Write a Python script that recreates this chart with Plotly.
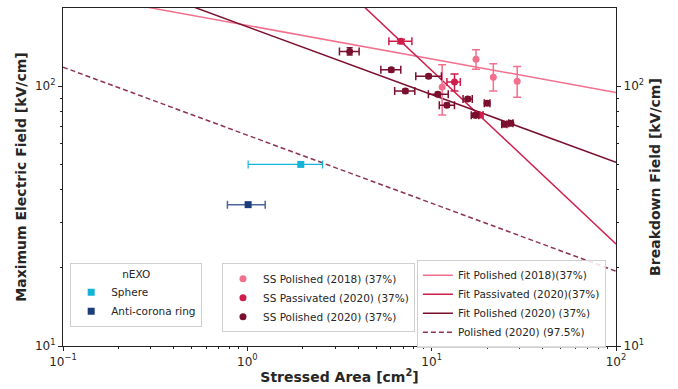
import plotly.graph_objects as go

# ---- data ----
# nEXO
sphere_A = [1.95]; sphere_E = [50.0]; sphere_A_lo = [1.01]; sphere_A_hi = [2.56]
ring_A = [1.01]; ring_E = [35.0]; ring_A_lo = [0.78]; ring_A_hi = [1.25]

# SS Polished (2018)
p18_A = [11.4, 17.4, 21.6, 29.1]
p18_E = [99.4, 127.0, 108.3, 104.5]
p18_E_lo = [77.4, 116.3, 95.9, 90.7]
p18_E_hi = [120.9, 138.0, 121.9, 119.0]

# SS Passivated (2020)
pa_A = [6.81, 13.3, 18.2]
pa_E = [148.8, 103.9, 77.4]
pa_A_lo = [5.86, 12.1, 17.4]
pa_A_hi = [7.81, 14.3, 19.0]
pa_E_lo = [146.0, 95.9, 75.8]
pa_E_hi = [151.5, 111.5, 79.0]

# SS Polished (2020)
p20_A = [3.59, 6.04, 9.62, 7.2, 10.8, 12.1, 15.7, 20.0, 17.2, 24.8, 26.9]
p20_E = [136.0, 115.6, 109.3, 95.9, 93.1, 84.5, 89.3, 86.0, 77.3, 71.3, 72.0]
p20_A_lo = [3.16, 5.3, 8.2, 6.3, 9.6, 11.0, 14.8, 19.3, 16.4, 24.0, 26.2]
p20_A_hi = [4.04, 6.8, 11.3, 8.1, 12.3, 13.3, 16.6, 20.7, 18.0, 25.6, 27.6]
p20_E_lo = [131.9, 113.5, 107.3, 94.2, 91.4, 83.0, 87.7, 84.4, 75.9, 70.0, 70.7]
p20_E_hi = [140.5, 117.7, 111.3, 97.6, 94.8, 86.0, 90.9, 87.6, 78.7, 72.6, 73.3]

# Fit lines (end points read at A = 0.1 and A = 100)
fit_A = [0.1, 100.0]
fit18_E = [230.7, 94.6]
fitpa_E = [2495.0, 24.7]
fit20_E = [309.0, 50.9]
fit20_975_E = [118.4, 19.4]

x_ticks = [0.1, 1, 10, 100]
x_ticktext = ["10<sup>−1</sup>", "10<sup>0</sup>", "10<sup>1</sup>", "10<sup>2</sup>"]
y_ticks = [10, 100]
y_ticktext = ["10<sup>1</sup>", "10<sup>2</sup>"]

C_SPH = "#14b3d9"
C_RING = "#1c3c7a"
C_P18 = "#f2708e"
C_PA = "#d01c4b"
C_P20 = "#7a0f2e"

def asym(v, lo, hi):
    return [h - x for x, h in zip(v, hi)], [x - l for x, l in zip(v, lo)]

fig = go.Figure()

# fit lines
fig.add_trace(go.Scatter(x=fit_A, y=fit18_E, mode="lines", line=dict(color=C_P18, width=1.5),
                         name="Fit Polished (2018)(37%)", legend="legend3"))
fig.add_trace(go.Scatter(x=fit_A, y=fitpa_E, mode="lines", line=dict(color=C_PA, width=1.5),
                         name="Fit Passivated (2020)(37%)", legend="legend3"))
fig.add_trace(go.Scatter(x=fit_A, y=fit20_E, mode="lines", line=dict(color=C_P20, width=1.5),
                         name="Fit Polished (2020) (37%)", legend="legend3"))
fig.add_trace(go.Scatter(x=fit_A, y=fit20_975_E, mode="lines",
                         line=dict(color="rgba(122,15,46,0.85)", width=1.5, dash="5px,3px"),
                         name="Polished (2020) (97.5%)", legend="legend3"))

# nEXO
p, m = asym(sphere_A, sphere_A_lo, sphere_A_hi)
fig.add_trace(go.Scatter(x=sphere_A, y=sphere_E, mode="markers", name="Sphere", legend="legend",
                         marker=dict(symbol="square", size=7, color=C_SPH),
                         error_x=dict(type="data", array=p, arrayminus=m, color=C_SPH, thickness=1.2, width=4)))
p, m = asym(ring_A, ring_A_lo, ring_A_hi)
fig.add_trace(go.Scatter(x=ring_A, y=ring_E, mode="markers", name="Anti-corona ring", legend="legend",
                         marker=dict(symbol="square", size=7, color=C_RING),
                         error_x=dict(type="data", array=p, arrayminus=m, color="#4a6898", thickness=1.5, width=4)))

# SS data
py, my = asym(p18_E, p18_E_lo, p18_E_hi)
fig.add_trace(go.Scatter(x=p18_A, y=p18_E, mode="markers", name="SS Polished (2018) (37%)", legend="legend2",
                         marker=dict(symbol="circle", size=7, color=C_P18),
                         error_y=dict(type="data", array=py, arrayminus=my, color=C_P18, thickness=1.5, width=4)))
px_, mx_ = asym(pa_A, pa_A_lo, pa_A_hi)
py, my = asym(pa_E, pa_E_lo, pa_E_hi)
fig.add_trace(go.Scatter(x=pa_A, y=pa_E, mode="markers", name="SS Passivated (2020) (37%)", legend="legend2",
                         marker=dict(symbol="circle", size=7, color=C_PA),
                         error_x=dict(type="data", array=px_, arrayminus=mx_, color=C_PA, thickness=1.5, width=4),
                         error_y=dict(type="data", array=py, arrayminus=my, color=C_PA, thickness=1.5, width=4)))
px_, mx_ = asym(p20_A, p20_A_lo, p20_A_hi)
py, my = asym(p20_E, p20_E_lo, p20_E_hi)
fig.add_trace(go.Scatter(x=p20_A, y=p20_E, mode="markers", name="SS Polished (2020) (37%)", legend="legend2",
                         marker=dict(symbol="circle", size=7, color=C_P20),
                         error_x=dict(type="data", array=px_, arrayminus=mx_, color=C_P20, thickness=1.5, width=4),
                         error_y=dict(type="data", array=py, arrayminus=my, color=C_P20, thickness=1.5, width=3)))

# dummy for right axis
fig.add_trace(go.Scatter(x=[None], y=[None], yaxis="y2", showlegend=False, hoverinfo="skip"))

FONT = "DejaVu Sans"
TXT = "#262626"
minor_x = [a * b for b in (0.1, 1, 10) for a in range(2, 10)]
minor_y = [a * 10 for a in range(2, 10)]

axis_common = dict(type="log", showgrid=False, zeroline=False, showline=True, linecolor="#222",
                   linewidth=1.2, ticks="outside", ticklen=4, tickwidth=1, tickcolor="#222",
                   automargin=False,
                   tickfont=dict(family=FONT, size=12, color=TXT))

LEG = dict(xanchor="left", yanchor="top", bgcolor="rgba(255,255,255,0.85)",
           bordercolor="#d0d0d0", borderwidth=1, font=dict(family=FONT, size=10.5, color=TXT),
           tracegroupgap=0, itemwidth=30)

fig.update_layout(
    width=678, height=389,
    margin=dict(l=63, r=62, t=8, b=43),
    paper_bgcolor="white", plot_bgcolor="white",
    font=dict(family=FONT, size=11, color=TXT),
    xaxis=dict(**axis_common, range=[-1, 2], tickvals=x_ticks, ticktext=x_ticktext, mirror=True,
               minor=dict(tickvals=minor_x, ticks="outside", ticklen=2, tickcolor="#222"),
               title=dict(text="<b>Stressed Area [cm<sup>2</sup>]</b>", font=dict(family=FONT, size=14, color=TXT), standoff=4)),
    yaxis=dict(**axis_common, range=[1, 2.30103], tickvals=y_ticks, ticktext=y_ticktext,
               minor=dict(tickvals=minor_y, ticks="outside", ticklen=2, tickcolor="#222"),
               title=dict(text="<b>Maximum Electric Field [kV/cm]</b>", font=dict(family=FONT, size=14, color=TXT), standoff=4)),
    yaxis2=dict(**axis_common, range=[1, 2.30103], tickvals=y_ticks, ticktext=y_ticktext,
                overlaying="y", side="right",
                minor=dict(tickvals=minor_y, ticks="outside", ticklen=2, tickcolor="#222"),
                title=dict(text="<b>Breakdown Field [kV/cm]</b>", font=dict(family=FONT, size=14, color=TXT), standoff=7)),
    legend=dict(**LEG, x=0.013, y=0.245,
                title=dict(text="nEXO", side="top center", font=dict(family=FONT, size=10.5, color=TXT))),
    legend2=dict(**LEG, x=0.2875, y=0.245),
    legend3=dict(**LEG, x=0.640, y=0.255),
)

fig.write_html("out.html", config={"displayModeBar": False},
               post_script="document.body.style.margin='0';document.body.style.overflow='hidden';")
